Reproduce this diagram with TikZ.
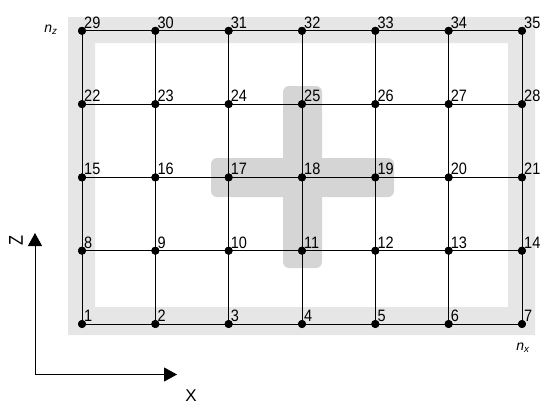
\documentclass[tikz,border=0pt]{standalone}
\usepackage{graphicx}
\usepackage{fontspec}
\setmainfont{Liberation Sans}
\usetikzlibrary{arrows.meta}
\definecolor{framegray}{HTML}{E6E6E6}
\definecolor{plusgray}{HTML}{D5D5D5}
\newcommand{\numtxt}[1]{\scalebox{0.88}[1]{\fontsize{16.5}{18}\selectfont #1}}
\tikzset{
  dot/.style={circle,fill=black,inner sep=0pt,minimum size=8pt},
  numlab/.style={anchor=base west,inner sep=0pt},
  gridline/.style={line width=0.9pt,black},
  axisline/.style={line width=1pt,-{Triangle[width=14pt,length=13pt]}},
  axislab/.style={inner sep=0pt},
}
\begin{document}
\begin{tikzpicture}[x=1pt,y=-1pt]
\useasboundingbox (0,0) rectangle (549,407);
% frame
\fill[framegray,even odd rule] (68,17) rectangle (535,335) (95,43) rectangle (508,307);
% plus
\fill[plusgray,rounded corners=6pt] (283,86) rectangle (322,268);
\fill[plusgray,rounded corners=6pt] (211,158) rectangle (394,197);
% nodes
\foreach \r in {0,...,4}{
  \foreach \c in {0,...,6}{
    \pgfmathtruncatemacro{\n}{7*\r+\c+1}
    \node[dot] (n\n) at ({82+73.33*\c},{324-73.3*\r}) {};
  }
}
% grid lines
\foreach \r in {0,...,4}{
  \foreach \c in {0,...,5}{
    \pgfmathtruncatemacro{\a}{7*\r+\c+1}
    \pgfmathtruncatemacro{\b}{\a+1}
    \draw[gridline] (n\a.center) -- (n\b.center);
  }
}
\foreach \r in {0,...,3}{
  \foreach \c in {0,...,6}{
    \pgfmathtruncatemacro{\a}{7*\r+\c+1}
    \pgfmathtruncatemacro{\b}{\a+7}
    \draw[gridline] (n\a.center) -- (n\b.center);
  }
}
% redraw dots on top
\foreach \n in {1,...,35}{
  \fill (n\n.center) circle (4pt);
  \node[numlab] (l\n) at ([xshift=2pt,yshift=2.5pt]n\n.center) {\numtxt{\n}};
}
% n labels
\node[inner sep=0pt] (nz) at (51,30) {\fontsize{14}{16}\selectfont\textit{n}\textsubscript{\textit{z}}};
\node[inner sep=0pt] (nx) at (523,348) {\fontsize{14}{16}\selectfont\textit{n}\textsubscript{\textit{x}}};
% axes
\coordinate (ax0) at (35,374.5);
\coordinate (zt) at (35,233);
\coordinate (xt) at (177,374.5);
\draw[axisline] (ax0) -- (zt);
\draw[axisline] (ax0) -- (xt);
\node[axislab,rotate=90] (zl) at (16,240) {\scalebox{0.82}[1]{\fontsize{20}{22}\selectfont Z}};
\node[axislab] (xl) at (191,396) {\fontsize{17}{20}\selectfont X};
\end{tikzpicture}
\end{document}
